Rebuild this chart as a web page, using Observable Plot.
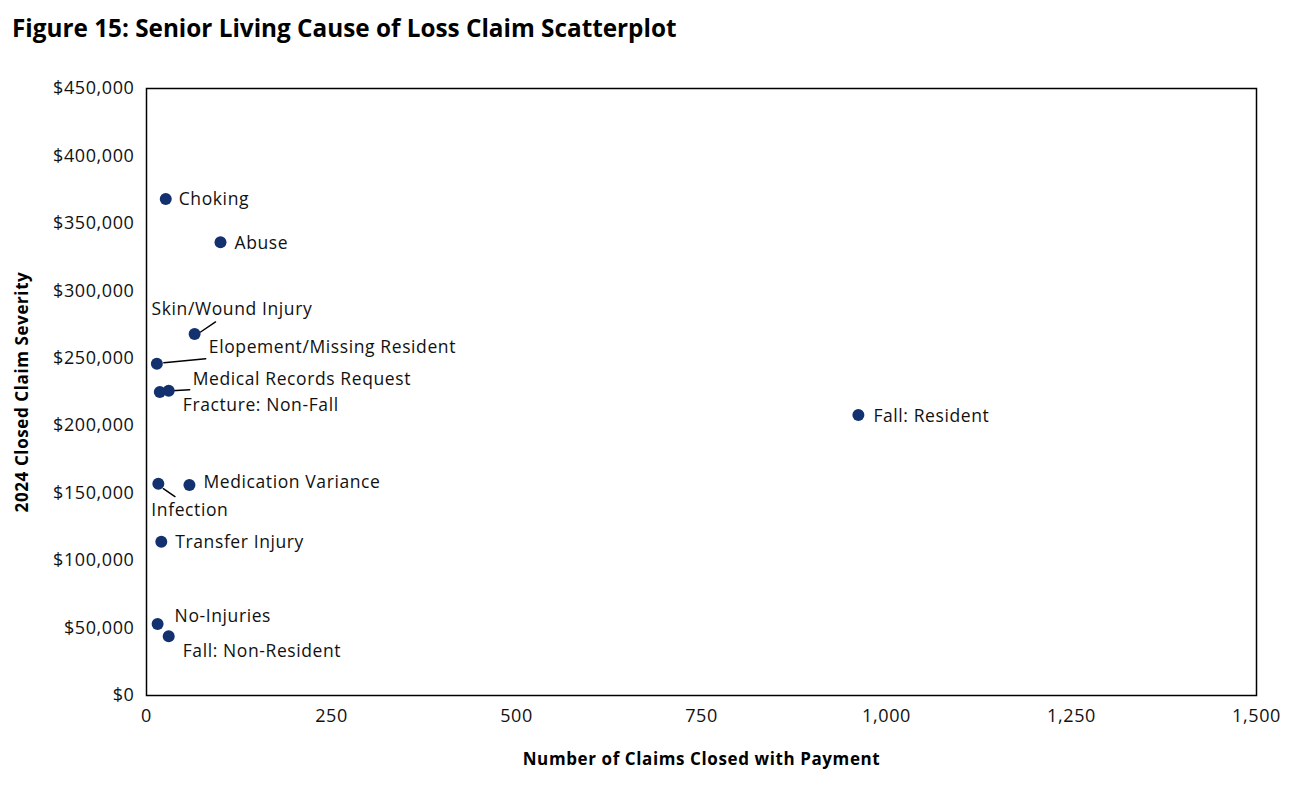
<!DOCTYPE html>
<html>
<head>
<meta charset="utf-8">
<script src="https://cdn.jsdelivr.net/npm/d3@7"></script>
<script src="https://cdn.jsdelivr.net/npm/@observablehq/plot@0.6"></script>
<style>
  html, body { margin: 0; padding: 0; background: #fff; }
  body { width: 1290px; height: 785px; overflow: hidden; font-family: "Open Sans", sans-serif; }
  #title { height: 58px; box-sizing: border-box; padding: 11px 0 0 12px; font-weight: 700; font-size: 24.3px; color: #000; white-space: nowrap; }
  #chart svg { display: block; }
</style>
</head>
<body>
<div id="title">Figure 15: Senior Living Cause of Loss Claim Scatterplot</div>
<div id="chart"></div>
<script>
// ---- Data ----
const causes = [
  "Choking", "Abuse", "Skin/Wound Injury", "Elopement/Missing Resident",
  "Medical Records Request", "Fracture: Non-Fall", "Fall: Resident",
  "Medication Variance", "Infection", "Transfer Injury", "No-Injuries",
  "Fall: Non-Resident"
];
const claimsClosed = [26, 100, 65, 14, 30, 18, 962, 58, 16, 20, 15, 30];
const severity = [368000, 336000, 268000, 246000, 226000, 225000, 208000, 156000, 157000, 114000, 53000, 44000];
const xTicks = [0, 250, 500, 750, 1000, 1250, 1500];
const yTicks = [0, 50000, 100000, 150000, 200000, 250000, 300000, 350000, 400000, 450000];

const rows = causes.map((c, i) => ({cause: c, n: claimsClosed[i], sev: severity[i]}));

// ---- Layout of labels (pixel offsets of label start from each point) ----
const labelPlacement = {
  "Choking": [13, 0],
  "Abuse": [14, 1],
  "Skin/Wound Injury": [-43, -25],
  "Elopement/Missing Resident": [52, -16],
  "Medical Records Request": [24, -11],
  "Fracture: Non-Fall": [23, 13],
  "Fall: Resident": [15, 1],
  "Medication Variance": [14, -3],
  "Infection": [-7, 27],
  "Transfer Injury": [14, 1],
  "No-Injuries": [17, -8],
  "Fall: Non-Resident": [14, 15]
};
// leader lines: [startDx, startDy, length, rotateDeg]
const leaders = {
  "Skin/Wound Injury": [6, -2, 18, 56],
  "Elopement/Missing Resident": [7, -1, 42, 84.6],
  "Medical Records Request": [3, 0, 18, 87],
  "Infection": [5, 5, 14, 124]
};

const fontFamily = "'Open Sans', sans-serif";
const lineShape = {draw(context, l) { context.moveTo(0, 0); context.lineTo(0, -l); }};

const marks = [
  Plot.frame({stroke: "#000", strokeWidth: 1.5}),
  Plot.axisX({ticks: xTicks, tickSize: 0, tickPadding: 14, tickFormat: d3.format(","), fontSize: 18, label: null}),
  Plot.axisY({ticks: yTicks, tickSize: 0, tickPadding: 12, tickFormat: d => "$" + d3.format(",")(d), fontSize: 18, label: null}),
  Plot.text(["Number of Claims Closed with Payment"], {frameAnchor: "bottom", textAnchor: "middle", dy: 69, text: d => d, fontWeight: "bold", fontSize: 17, fill: "#000"}),
  Plot.text(["2024 Closed Claim Severity"], {frameAnchor: "left", textAnchor: "middle", dx: -124, rotate: -90, text: d => d, fontWeight: "bold", fontSize: 17, fill: "#000"}),
  ...Object.entries(leaders).map(([name, [dx, dy, len, rot]]) =>
    Plot.vector(rows.filter(r => r.cause === name), {x: "n", y: "sev", dx, dy, length: len, rotate: rot, anchor: "start", shape: lineShape, stroke: "#000", strokeWidth: 1.5})
  ),
  Plot.dot(rows, {x: "n", y: "sev", r: 6, fill: "#13306f", stroke: "none"}),
  ...Object.entries(labelPlacement).map(([name, [dx, dy]]) =>
    Plot.text(rows.filter(r => r.cause === name), {x: "n", y: "sev", text: "cause", dx, dy, textAnchor: "start", fontSize: 17.5, fill: "#111"})
  )
];

const chart = Plot.plot({
  width: 1290,
  height: 727,
  marginLeft: 146,
  marginRight: 34,
  marginTop: 30,
  marginBottom: 90,
  style: {fontFamily, fontSize: "17px", color: "#111", background: "#fff", letterSpacing: "0.6px"},
  x: {domain: [0, 1500]},
  y: {domain: [0, 450000]},
  marks
});
document.getElementById("chart").appendChild(chart);
</script>
</body>
</html>
